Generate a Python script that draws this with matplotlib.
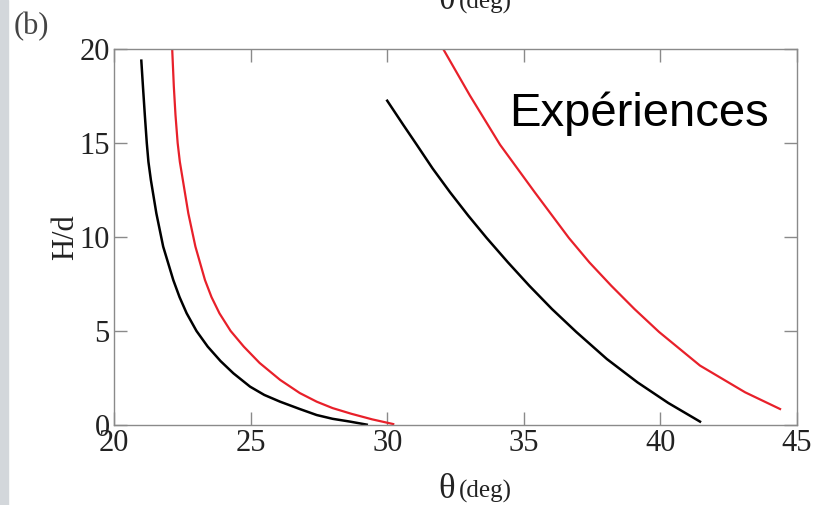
import matplotlib
matplotlib.use("Agg")
import matplotlib.pyplot as plt
from matplotlib.patches import Rectangle

# H/d versus theta, two branches each for black and red
theta_k1 = [21.0, 21.06, 21.13, 21.2, 21.26, 21.35, 21.55, 21.8, 22.17, 22.4, 22.66, 23.02, 23.43,
            23.9, 24.37, 24.98, 25.5, 26.08, 26.8, 27.42, 28.0, 28.64, 29.25]
hd_k1 = [19.38, 18.0, 16.45, 15.0, 14.0, 13.03, 11.26, 9.49, 7.71, 6.8, 5.94, 5.0, 4.17,
         3.4, 2.75, 2.04, 1.6, 1.24, 0.85, 0.53, 0.33, 0.18, 0.02]

theta_r1 = [22.13, 22.19, 22.25, 22.33, 22.41, 22.52, 22.72, 22.98, 23.33, 23.57, 23.86, 24.27, 24.75,
            25.33, 26.08, 26.8, 27.42, 28.0, 28.68, 29.45, 30.22]
hd_r1 = [20.0, 18.0, 16.5, 15.0, 14.0, 13.03, 11.26, 9.49, 7.71, 6.8, 5.94, 5.0, 4.17,
         3.3, 2.40, 1.7, 1.24, 0.9, 0.6, 0.3, 0.05]

theta_k2 = [30.0, 30.59, 31.08, 31.66, 32.30, 32.97, 33.64, 34.42, 35.2, 36.03, 36.92, 38.04,
            39.16, 40.29, 41.45]
hd_k2 = [17.25, 15.96, 14.91, 13.65, 12.38, 11.13, 9.95, 8.65, 7.41, 6.17, 4.95, 3.51,
         2.27, 1.17, 0.18]

theta_r2 = [32.05, 33.03, 34.13, 35.40, 36.65, 37.40, 38.20, 39.05, 39.95, 41.45, 43.10, 44.38]
hd_r2 = [20.0, 17.52, 14.91, 12.38, 9.95, 8.65, 7.41, 6.17, 4.95, 3.16, 1.74, 0.85]

xticks = [20, 25, 30, 35, 40, 45]
yticks = [0, 5, 10, 15, 20]

serif = "Liberation Serif"
red = "#e8202a"
ink = "#222222"

fig = plt.figure(figsize=(8.14, 5.05), dpi=100)
fig.patches.append(Rectangle((0, 0), 8 / 814, 1, transform=fig.transFigure,
                             color="#d3d7db", zorder=0))

ax = fig.add_axes([114 / 814, 1 - 425 / 505, (797 - 114) / 814, (425 - 49) / 505])
ax.plot(theta_k1, hd_k1, color="black", lw=1.8)
ax.plot(theta_r1, hd_r1, color=red, lw=1.6)
ax.plot(theta_k2, hd_k2, color="black", lw=1.8)
ax.plot(theta_r2, hd_r2, color=red, lw=1.6)

ax.set_xlim(20, 45)
ax.set_ylim(0, 20)
ax.set_xticks(xticks)
ax.set_yticks(yticks)
for s in ax.spines.values():
    s.set_color("#8a8a8a")
    s.set_linewidth(1.0)
ax.tick_params(direction="in", length=9.5, width=1.0, color="#8a8a8a",
               top=True, right=True, labelsize=22, pad=3)
for lab in ax.get_xticklabels() + ax.get_yticklabels():
    lab.set_fontfamily(serif)
    lab.set_color(ink)

ax.set_ylabel("H/d", fontsize=22, family=serif, color=ink)
ax.yaxis.set_label_coords(-0.049, 0.5)

# x label: bigger theta followed by the unit
fig.text(455 / 814, 1 - 498 / 505, "θ", fontsize=25, family=serif, ha="right", va="baseline", color=ink)
fig.text(459 / 814, 1 - 498 / 505, "(deg)", fontsize=18, family=serif, ha="left", va="baseline", color=ink)

# top panel's label, cut by the figure edge
fig.text(455 / 814, 1 - 9 / 505, "θ", fontsize=25, family=serif, ha="right", va="baseline", color=ink)
fig.text(459 / 814, 1 - 9 / 505, "(deg)", fontsize=18, family=serif, ha="left", va="baseline", color=ink)

fig.text(14 / 814, 1 - 34 / 505, "(b)", fontsize=22, family=serif, ha="left", va="baseline", color="#444444")

ax.text(0.579, 0.795, "Expériences", transform=ax.transAxes, fontsize=34,
        family="Liberation Sans", ha="left", va="baseline", color="black")

fig.savefig("out.png", dpi=100)
